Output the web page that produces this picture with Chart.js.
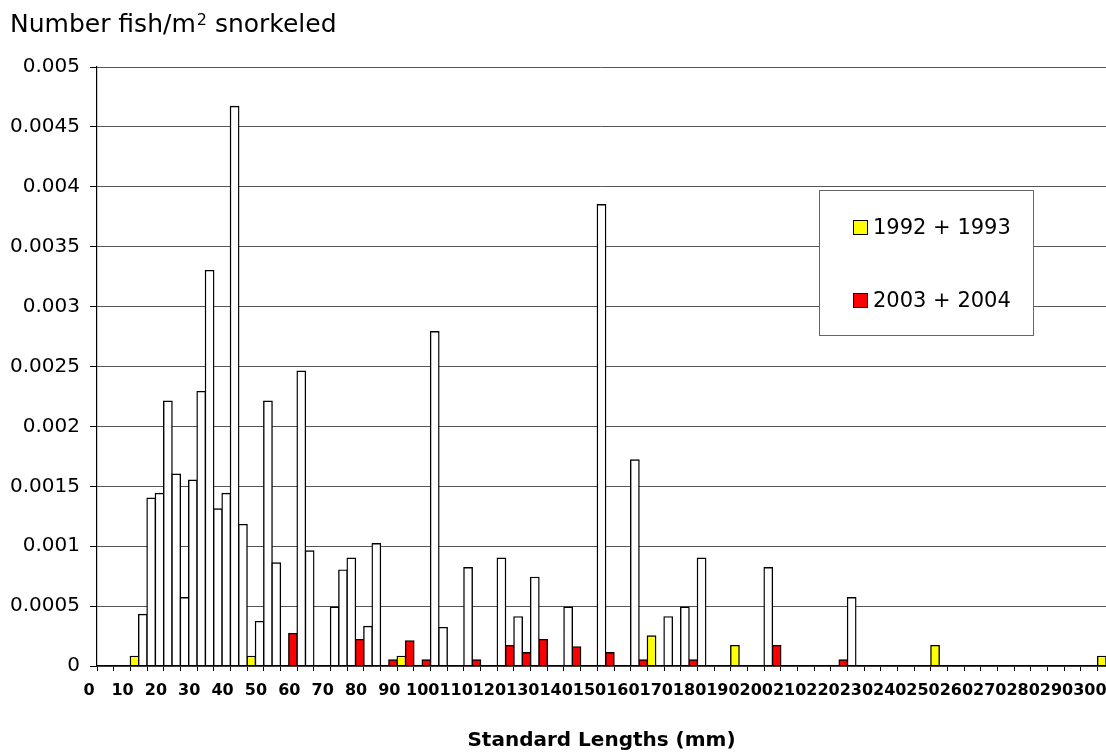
<!DOCTYPE html>
<html>
<head>
<meta charset="utf-8">
<script src="https://cdn.jsdelivr.net/npm/chart.js@4.4.1/dist/chart.umd.min.js"></script>
<style>
  html, body { margin: 0; padding: 0; background: #ffffff; }
  #wrap { width: 1106px; height: 756px; position: relative; }
</style>
</head>
<body>
<div id="wrap"><canvas id="c" width="1106" height="756"></canvas></div>
<script>
// ---------- data ----------
const chartTitleParts = ['Number fish/m', '2', ' snorkeled'];
const xAxisTitle = 'Standard Lengths (mm)';
const xTickLabels = ['0','10','20','30','40','50','60','70','80','90','100','110','120','130','140','150',
                     '160','170','180','190','200','210','220','230','240','250','260','270','280','290','300'];
// 2.5 mm length bins from 0 to 300 mm
const binLengths = Array.from({ length: 121 }, (_, i) => i * 2.5);

const series1992Label = '1992 + 1993';
const series1992Lengths = [10, 45, 90, 165, 190, 250, 300];
const series1992Values  = [0.00008, 0.00008, 0.00008, 0.00025, 0.00017, 0.00017, 0.00008];

const series2003Label = '2003 + 2004';
const series2003Lengths = [57.5, 77.5, 87.5, 92.5, 97.5, 112.5, 122.5, 127.5, 132.5, 142.5, 152.5, 162.5, 177.5, 202.5, 222.5];
const series2003Values  = [0.00027, 0.00022, 0.00005, 0.00021, 0.00005, 0.00005, 0.00017, 0.00011, 0.00022, 0.00016, 0.00011, 0.00005, 0.00005, 0.00017, 0.00005];

// unlabelled (white) bars
const otherLengths = [12.5, 15, 17.5, 20, 22.5, 25, 27.5, 30, 32.5, 35,
                      37.5, 40, 42.5, 47.5, 50, 52.5, 60, 62.5, 70, 72.5,
                      75, 80, 82.5, 100, 102.5, 110, 120, 125, 130, 140,
                      150, 160, 170, 175, 180, 200, 225];
const otherValues  = [0.00043, 0.0014, 0.00144, 0.00221, 0.0016, 0.00057, 0.00155, 0.00229, 0.0033, 0.00131,
                      0.00144, 0.00467, 0.00118, 0.00037, 0.00221, 0.00086, 0.00246, 0.00096, 0.00049, 0.0008,
                      0.0009, 0.00033, 0.00102, 0.00279, 0.00032, 0.00082, 0.0009, 0.00041, 0.00074, 0.00049,
                      0.00385, 0.00172, 0.00041, 0.00049, 0.0009, 0.00082, 0.00057];

function toBins(lengths, values) {
  const arr = binLengths.map(() => null);
  lengths.forEach((L, i) => { arr[binLengths.indexOf(L)] = values[i]; });
  return arr;
}

const FONT = 'DejaVu Sans';

// ---------- plugins: title at top-left, boxed legend inside plot ----------
const topTitlePlugin = {
  id: 'topTitle',
  afterDraw(chart) {
    const ctx = chart.ctx;
    ctx.save();
    ctx.fillStyle = '#000';
    ctx.textBaseline = 'alphabetic';
    ctx.textAlign = 'left';
    let x = 10;
    const y = 32;
    ctx.font = '25px "' + FONT + '"';
    ctx.fillText(chartTitleParts[0], x, y);
    x += ctx.measureText(chartTitleParts[0]).width;
    ctx.font = '16px "' + FONT + '"';
    ctx.fillText(chartTitleParts[1], x + 1, y - 7);
    x += ctx.measureText(chartTitleParts[1]).width + 1;
    ctx.font = '25px "' + FONT + '"';
    ctx.fillText(chartTitleParts[2], x, y);
    ctx.restore();
  }
};

const boxLegendPlugin = {
  id: 'boxLegend',
  afterDraw(chart) {
    const ctx = chart.ctx;
    const items = chart.data.datasets.filter(d => d.label);
    ctx.save();
    ctx.fillStyle = '#ffffff';
    ctx.strokeStyle = '#666666';
    ctx.lineWidth = 1;
    ctx.fillRect(819.5, 190.5, 214, 145);
    ctx.strokeRect(819.5, 190.5, 214, 145);
    items.forEach((d, i) => {
      const cy = 228 + i * 73;
      ctx.fillStyle = d.backgroundColor;
      ctx.fillRect(853.5, cy - 7.5, 14, 14);
      ctx.strokeStyle = '#000';
      ctx.strokeRect(853.5, cy - 7.5, 14, 14);
      ctx.fillStyle = '#000';
      ctx.font = '21px "' + FONT + '"';
      ctx.textBaseline = 'middle';
      ctx.textAlign = 'left';
      ctx.fillText(d.label, 873, cy + 1);
    });
    ctx.restore();
  }
};

// ---------- chart ----------
new Chart(document.getElementById('c'), {
  type: 'bar',
  data: {
    labels: binLengths.map(String),
    datasets: [
      { label: '', data: toBins(otherLengths, otherValues), backgroundColor: '#ffffff', borderColor: '#000000' },
      { label: series1992Label, data: toBins(series1992Lengths, series1992Values), backgroundColor: '#ffff00', borderColor: '#000000' },
      { label: series2003Label, data: toBins(series2003Lengths, series2003Values), backgroundColor: '#ff0000', borderColor: '#000000' }
    ]
  },
  options: {
    responsive: false,
    animation: false,
    devicePixelRatio: 1,
    layout: { padding: { top: 67, left: 0, right: 0, bottom: 0 } },
    datasets: {
      bar: {
        grouped: false,
        categoryPercentage: 1,
        barPercentage: 1,
        borderWidth: 1.4,
        inflateAmount: 0.7,
        borderSkipped: 'start'
      }
    },
    plugins: {
      legend: { display: false },
      tooltip: { enabled: false },
      title: { display: false }
    },
    scales: {
      x: {
        offset: true,
        grid: {
          offset: true,
          drawOnChartArea: false,
          drawTicks: true,
          tickLength: 5,
          lineWidth: 1,
          color: (c) => (c.type === 'tick' && c.index % 2 === 0) ? '#000000' : 'rgba(0,0,0,0)'
        },
        border: { color: '#000000', width: 1.2, z: 1 },
        ticks: {
          autoSkip: false,
          maxRotation: 0,
          minRotation: 0,
          labelOffset: -12,
          padding: 10,
          color: '#000000',
          font: { family: FONT, size: 16, weight: 'bold' },
          callback: (v, i) => (i % 4 === 0 ? xTickLabels[i / 4] : '')
        },
        title: {
          display: true,
          text: xAxisTitle,
          color: '#000000',
          font: { family: FONT, size: 20, weight: 'bold' },
          padding: { top: 0, bottom: 3 }
        },
        afterFit: (s) => { s.height = 90; s.paddingLeft = 0; s.paddingRight = 0; }
      },
      y: {
        min: 0,
        max: 0.005,
        ticks: {
          stepSize: 0.0005,
          padding: 10,
          color: '#000000',
          font: { family: FONT, size: 20 },
          callback: (v) => String(Number(Number(v).toFixed(4)))
        },
        grid: {
          color: '#555555',
          lineWidth: 1,
          drawTicks: true,
          tickLength: 7,
          tickColor: '#000000'
        },
        border: { color: '#000000', width: 1.2, z: 1 },
        afterFit: (s) => { s.width = 97; s.paddingTop = 0; s.paddingBottom = 0; }
      }
    }
  },
  plugins: [topTitlePlugin, boxLegendPlugin]
});
</script>
</body>
</html>
